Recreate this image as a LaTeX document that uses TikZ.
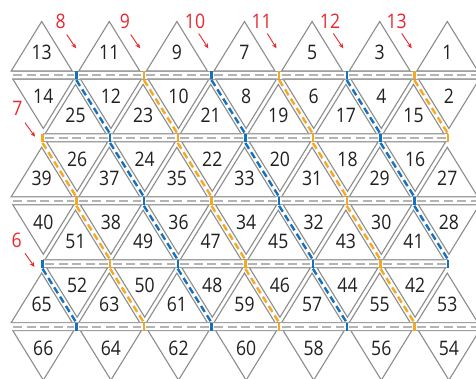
\documentclass[tikz,border=0pt]{standalone}
\usepackage{fontspec}
\setmainfont{Open Sans}[FakeStretch=0.88]
\usetikzlibrary{arrows.meta}
\definecolor{tricol}{HTML}{8C8C8C}
\definecolor{roadline}{HTML}{A0A0A0}
\definecolor{roaddash}{HTML}{B4B4B4}
\definecolor{rblue}{HTML}{1570BE}
\definecolor{rorange}{HTML}{F7A823}
\definecolor{labred}{HTML}{E8282E}
\definecolor{numcol}{HTML}{231F20}
\def\pP{67.6}\def\hP{33.8}\def\xO{42.5}\def\yA{75}\def\dY{62.9}
\def\rA{4}\def\tW{30.5}\def\tH{49.5}\def\sS{0.8}
\begin{document}
\begin{tikzpicture}[x=1pt,y=-1pt,
  tri/.style={draw=tricol, line width=1.1pt, line join=miter},
  rline/.style={draw=roadline, line width=0.9pt},
  rdash/.style={draw=roaddash, line width=2pt, dash pattern=on 9pt off 4.5pt},
  diagdash/.style={line width=2.4pt, dash pattern=on 7pt off 4pt},
  junc/.style={line width=2.4pt},
  num/.style={font=\fontsize{20}{24}\selectfont, text=numcol, inner sep=0pt},
  redlab/.style={font=\fontsize{20}{24}\selectfont, text=labred, inner sep=0pt},
  redarrow/.style={draw=labred, line width=0.9pt, -{Stealth[length=5pt,width=4.5pt]}}]
\useasboundingbox (0,0) rectangle (476,379);
\clip (0,0) rectangle (476,379);
% upward triangles
\foreach \rr/\kmax/\nb/\of in {1/6/13/0, 2/5/25/1, 3/6/39/0, 4/5/51/1, 5/6/65/0} {
  \foreach \kk in {0,...,\kmax} {
    \pgfmathsetmacro\cx{\xO+\of*\hP+\pP*\kk-\sS}
    \pgfmathsetmacro\yb{\yA+\dY*(\rr-1)-\rA}
    \pgfmathtruncatemacro\tn{\nb-2*\kk}
    \draw[tri] (\cx-\tW,\yb) -- (\cx+\tW,\yb) -- (\cx,\yb-\tH) -- cycle;
    \node[num] (t\tn) at (\cx,\yb-\tH/3-1.8) {\tn};
  }
}
% downward triangles
\foreach \rr/\kmax/\nb/\of in {2/6/14/0, 3/5/26/1, 4/6/40/0, 5/5/52/1, 6/6/66/0} {
  \foreach \kk in {0,...,\kmax} {
    \pgfmathsetmacro\cx{\xO+\of*\hP+\pP*\kk+\sS}
    \pgfmathsetmacro\yt{\yA+\dY*(\rr-2)+\rA}
    \pgfmathtruncatemacro\tn{\nb-2*\kk}
    \draw[tri] (\cx-\tW,\yt) -- (\cx+\tW,\yt) -- (\cx,\yt+\tH) -- cycle;
    \node[num] (t\tn) at (\cx,\yt+\tH/3+1.2) {\tn};
  }
}
% horizontal roads
\foreach \jj in {1,3,5} {
  \pgfmathsetmacro\yy{\yA+\dY*(\jj-1)}
  \draw[rline] (\xO-\tW,\yy-\rA) -- (480,\yy-\rA);
  \draw[rline] (\xO-\tW,\yy+\rA) -- (480,\yy+\rA);
  \foreach \ss in {-1,0,...,5} {
    \pgfmathsetmacro\xa{ifthenelse(\ss<0, \xO-\tW+1, \xO+\hP+\pP*\ss+2.5)}
    \pgfmathsetmacro\xb{ifthenelse(\ss>4, 480, \xO+\hP+\pP*(\ss+1)-2.5)}
    \draw[rdash] (\xa,\yy) -- (\xb,\yy);
  }
}
\foreach \jj in {2,4} {
  \pgfmathsetmacro\yy{\yA+\dY*(\jj-1)}
  \draw[rline] (\xO,\yy-\rA) -- (\xO+6*\pP,\yy-\rA);
  \draw[rline] (\xO,\yy+\rA) -- (\xO+6*\pP,\yy+\rA);
  \foreach \ss in {0,...,5} {
    \pgfmathsetmacro\xa{\xO+\pP*\ss+2.5}
    \pgfmathsetmacro\xb{\xO+\pP*(\ss+1)-2.5}
    \draw[rdash] (\xa,\yy) -- (\xb,\yy);
  }
}
% diagonal roads
\foreach \mm/\js/\je in {-2/4/5, -1/2/5, 0/1/5, 1/1/5, 2/1/5, 3/1/5, 4/1/4, 5/1/2} {
  \pgfmathtruncatemacro\rdp{mod(\mm+10,2)}
  \ifnum\rdp=0 \def\rc{rblue}\else\def\rc{rorange}\fi
  \foreach \jj in {\js,...,\je} {
    \pgfmathsetmacro\xj{\xO+\hP+\pP*\mm+\hP*(\jj-1)}
    \pgfmathsetmacro\yj{\yA+\dY*(\jj-1)}
    \draw[junc,\rc] (\xj,\yj-\rA) -- (\xj,\yj+\rA);
    \ifnum\jj<\je
      \draw[diagdash,\rc] (\xj,\yj+\rA+1) -- (\xj+\hP,\yj+\dY-\rA);
    \fi
  }
}
% red labels and arrows
\foreach \lab/\lx/\ly/\sx/\sy/\ex/\ey in {
  8/60.7/21.7/66.7/34.5/76/48.3,
  9/125/21.7/130.7/34.5/140/48.3,
  10/195/21.7/198.7/33.5/208.3/48.3,
  11/261.7/21.7/267.3/33.5/276.5/48.3,
  12/330/21.7/333.3/33.5/343.3/48.3,
  13/396.7/21.7/401.7/33.5/411.7/48.3,
  7/17.3/108.3/25/122.7/35/136.7,
  6/16.7/240/25/253.3/34.5/267} {
  \node[redlab] (l\lab) at (\lx,\ly) {\lab};
  \coordinate (as\lab) at (\sx,\sy);
  \coordinate (ae\lab) at (\ex,\ey);
  \draw[redarrow] (as\lab) -- (ae\lab);
}
\end{tikzpicture}
\end{document}
